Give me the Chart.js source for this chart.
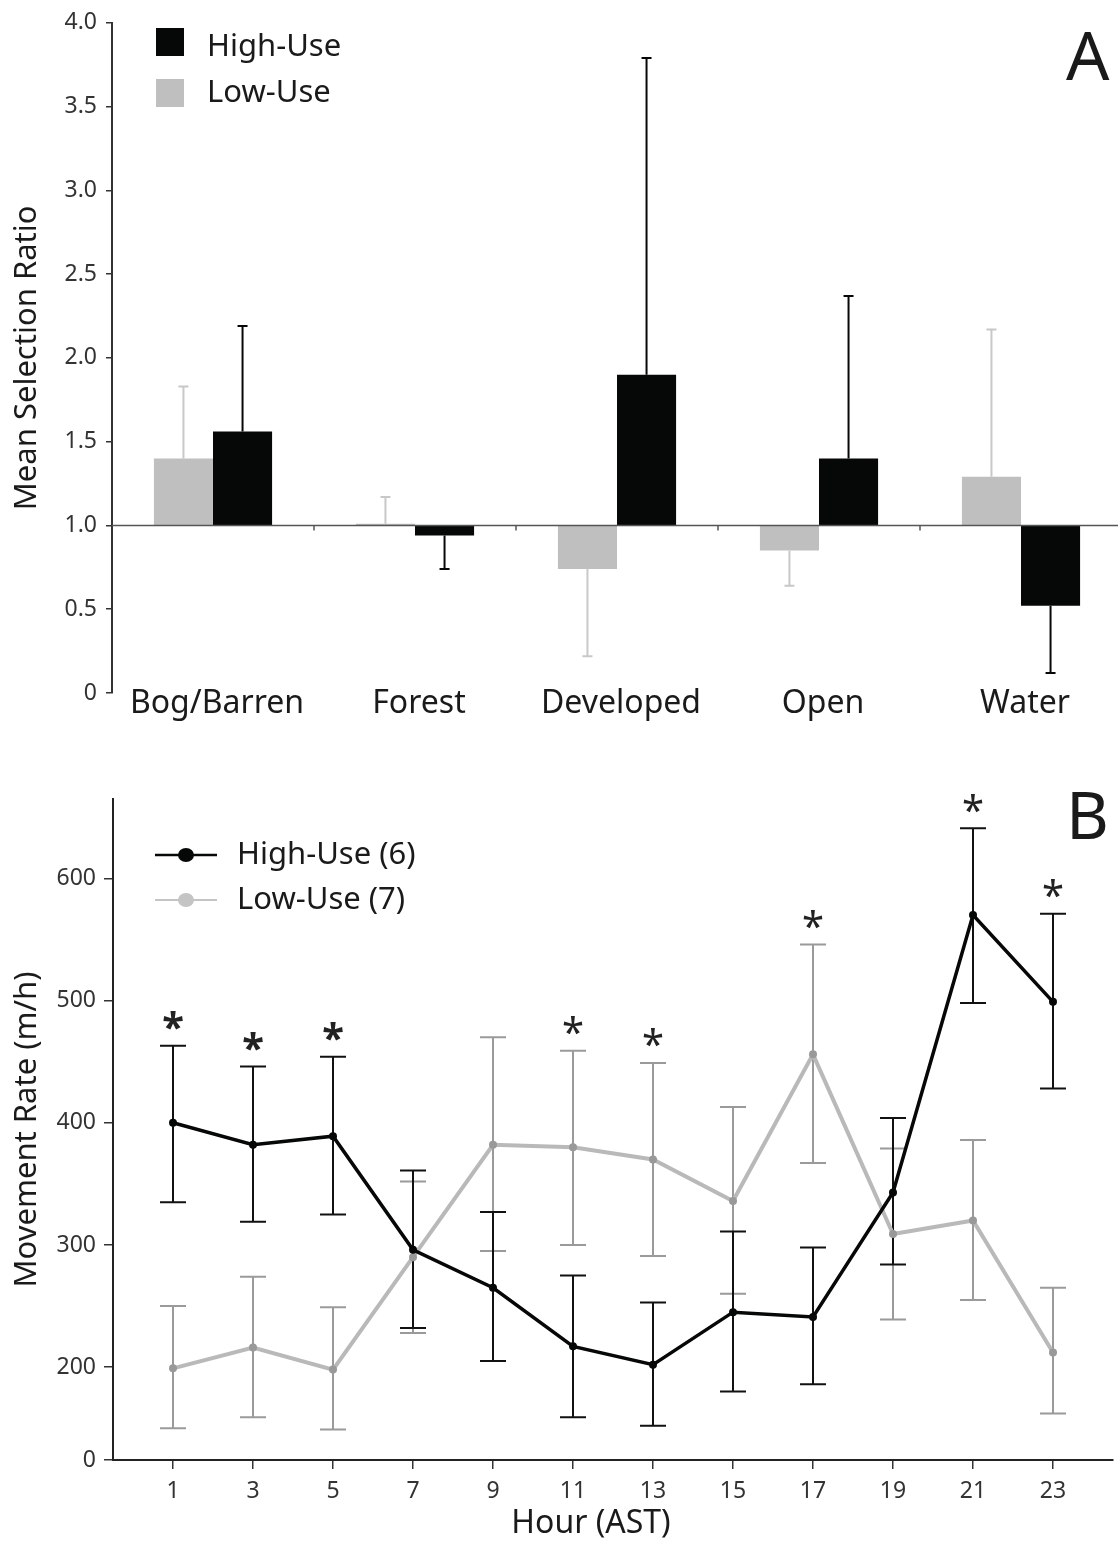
<!DOCTYPE html>
<html>
<head>
<meta charset="utf-8">
<title>Selection ratio and movement rate</title>
<script src="https://cdn.jsdelivr.net/npm/chart.js@4.4.1/dist/chart.umd.min.js"></script>
<style>
  html, body { margin: 0; padding: 0; background: #fff; }
  body { width: 1118px; height: 1543px; overflow: hidden; position: relative; }
  .panel { position: absolute; left: 0; width: 1118px; overflow: hidden; }
  #panelA { top: 0; height: 760px; }
  #panelB { top: 760px; height: 783px; }
  canvas { display: block; }
</style>
</head>
<body>
<div class="panel" id="panelA"><canvas id="chartA" width="1122" height="760"></canvas></div>
<div class="panel" id="panelB"><canvas id="chartB" width="1118" height="783"></canvas></div>
<script>
// ---- Panel A data ----
const habitats = ['Bog/Barren', 'Forest', 'Developed', 'Open', 'Water'];
const lowUseRatio = [1.40, 1.01, 0.74, 0.85, 1.29];
const lowUseErr = [1.83, 1.17, 0.22, 0.64, 2.17];
const highUseRatio = [1.56, 0.94, 1.90, 1.40, 0.52];
const highUseErr = [2.19, 0.74, 3.79, 2.37, 0.12];
const ratioBase = 1.0;

// ---- Panel B data ----
const hours = [1, 3, 5, 7, 9, 11, 13, 15, 17, 19, 21, 23];
const highUseRate = [400, 382, 389, 296, 265, 217, 202, 245, 241, 343, 570, 499];
const highUseUpper = [463, 446, 454, 361, 327, 275, 253, 311, 298, 404, 641, 571];
const highUseLower = [335, 319, 325, 232, 205, 159, 152, 180, 186, 284, 498, 428];
const lowUseRate = [199, 216, 198, 290, 382, 380, 370, 336, 456, 309, 320, 212];
const lowUseUpper = [250, 274, 249, 352, 470, 459, 449, 413, 546, 379, 386, 265];
const lowUseLower = [150, 159, 149, 228, 295, 300, 291, 260, 367, 239, 255, 162];
// the y axis is broken: its bottom tick reads 0
const rateAxisMin = 124;
const rateTicks = [124, 200, 300, 400, 500, 600];
const significantHours = [1, 3, 5, 11, 13, 17, 21, 23];
const heavyStarHours = [1, 3, 5];

const FONT = '"Noto Sans", "DejaVu Sans", sans-serif';
Chart.defaults.font.family = FONT;
Chart.defaults.color = '#222';

const BLACK = '#060808';
const LIGHT = '#c0bfbf';

// error bars, the 1.0 reference line, category names and legend for panel A
const ratioExtrasPlugin = {
  id: 'ratioExtras',
  afterDatasetsDraw(chart) {
    const { ctx, chartArea, scales: { x, y } } = chart;
    ctx.save();
    chart.data.datasets.forEach((ds, i) => {
      const meta = chart.getDatasetMeta(i);
      meta.data.forEach((bar, j) => {
        const yv = y.getPixelForValue(ds.data[j][1]);
        const ye = y.getPixelForValue(ds.errTo[j]);
        ctx.strokeStyle = ds.errColor;
        ctx.lineWidth = 2;
        ctx.beginPath();
        ctx.moveTo(bar.x, yv);
        ctx.lineTo(bar.x, ye);
        ctx.moveTo(bar.x - 5, ye);
        ctx.lineTo(bar.x + 5, ye);
        ctx.stroke();
      });
    });
    const yb = y.getPixelForValue(ratioBase);
    ctx.strokeStyle = '#555';
    ctx.lineWidth = 1.5;
    ctx.beginPath();
    ctx.moveTo(chartArea.left, yb);
    ctx.lineTo(chartArea.right, yb);
    for (let j = 0; j < habitats.length - 1; j++) {
      const xb = (x.getPixelForValue(j) + x.getPixelForValue(j + 1)) / 2;
      ctx.moveTo(xb, yb);
      ctx.lineTo(xb, yb + 5);
    }
    ctx.stroke();
    ctx.restore();
  },
  afterDraw(chart) {
    const { ctx, chartArea, scales: { x } } = chart;
    ctx.save();
    // category names sit a little into the plot, so draw them here
    ctx.fillStyle = '#1a1a1a';
    ctx.font = '32px ' + FONT;
    ctx.textAlign = 'center';
    ctx.textBaseline = 'alphabetic';
    habitats.forEach((name, j) => {
      ctx.fillText(name, x.getPixelForValue(j) + 4, chartArea.bottom + 20);
    });
    // legend
    ctx.textAlign = 'left';
    ctx.fillStyle = BLACK;
    ctx.fillRect(156, 28, 28, 28);
    ctx.fillStyle = LIGHT;
    ctx.fillRect(156, 79, 28, 28);
    ctx.fillStyle = '#1a1a1a';
    ctx.font = '31px ' + FONT;
    ctx.textBaseline = 'middle';
    ctx.fillText('High-Use', 207, 47);
    ctx.fillText('Low-Use', 207, 93);
    ctx.font = '68px ' + FONT;
    ctx.textBaseline = 'alphabetic';
    ctx.fillText('A', 1066, 80);
    ctx.restore();
  }
};

new Chart(document.getElementById('chartA'), {
  type: 'bar',
  data: {
    labels: habitats,
    datasets: [
      {
        label: 'Low-Use',
        data: lowUseRatio.map(v => [ratioBase, v]),
        errTo: lowUseErr,
        errColor: '#c8c8c8',
        backgroundColor: LIGHT,
        borderWidth: 0
      },
      {
        label: 'High-Use',
        data: highUseRatio.map(v => [ratioBase, v]),
        errTo: highUseErr,
        errColor: BLACK,
        backgroundColor: BLACK,
        borderWidth: 0
      }
    ]
  },
  options: {
    responsive: false,
    animation: false,
    devicePixelRatio: 1,
    categoryPercentage: 0.585,
    barPercentage: 1,
    layout: { padding: { top: 22, right: 0, left: 0, bottom: 0 } },
    plugins: { legend: { display: false }, tooltip: { enabled: false } },
    scales: {
      x: {
        grid: { display: false },
        border: { display: false },
        ticks: { display: false },
        afterFit(scale) { scale.height = 67; }
      },
      y: {
        min: 0,
        max: 4,
        ticks: {
          stepSize: 0.5,
          font: { size: 23 },
          color: '#333',
          padding: 9,
          callback: v => (v === 0 ? '0' : v.toFixed(1))
        },
        grid: { drawOnChartArea: false, tickLength: 6, color: '#333', lineWidth: 1.5 },
        border: { display: true, color: '#333', width: 2 },
        title: {
          display: true,
          text: 'Mean Selection Ratio',
          font: { size: 31 },
          color: '#1a1a1a',
          padding: { top: 9, bottom: 0 }
        },
        afterFit(scale) { scale.width = 112; }
      }
    }
  },
  plugins: [ratioExtrasPlugin]
});

// error bars, asterisks, legend for panel B
const rateExtrasPlugin = {
  id: 'rateExtras',
  beforeDatasetsDraw(chart) {
    const { ctx, scales: { x, y } } = chart;
    ctx.save();
    [1, 0].forEach(i => {
      const ds = chart.data.datasets[i];
      ctx.strokeStyle = ds.errColor;
      ctx.lineWidth = 2;
      ds.data.forEach((pt, j) => {
        const px = x.getPixelForValue(pt.x);
        const yt = y.getPixelForValue(ds.upper[j]);
        const yl = y.getPixelForValue(ds.lower[j]);
        ctx.beginPath();
        ctx.moveTo(px, yt);
        ctx.lineTo(px, yl);
        ctx.moveTo(px - 13, yt);
        ctx.lineTo(px + 13, yt);
        ctx.moveTo(px - 13, yl);
        ctx.lineTo(px + 13, yl);
        ctx.stroke();
      });
    });
    ctx.restore();
  },
  afterDatasetsDraw(chart) {
    const { ctx, scales: { x, y } } = chart;
    ctx.save();
    ctx.fillStyle = '#222';
    ctx.textAlign = 'center';
    ctx.textBaseline = 'alphabetic';
    significantHours.forEach(h => {
      const j = hours.indexOf(h);
      const top = Math.max(highUseUpper[j], lowUseUpper[j]);
      const cy = y.getPixelForValue(top) - 25;
      ctx.font = (heavyStarHours.includes(h) ? 'bold ' : '') + '40px ' + FONT;
      const m = ctx.measureText('*');
      const off = (m.actualBoundingBoxAscent - m.actualBoundingBoxDescent) / 2;
      ctx.fillText('*', x.getPixelForValue(h), cy + off);
    });
    ctx.restore();
  },
  afterDraw(chart) {
    const { ctx, chartArea } = chart;
    ctx.save();
    // legend
    const rows = [
      { text: 'High-Use (6)', line: BLACK, dot: BLACK, lw: 2.5, y: 95 },
      { text: 'Low-Use (7)', line: '#c4c4c4', dot: '#c4c4c4', lw: 2, y: 140 }
    ];
    rows.forEach(r => {
      ctx.strokeStyle = r.line;
      ctx.lineWidth = r.lw;
      ctx.beginPath();
      ctx.moveTo(155, r.y);
      ctx.lineTo(217, r.y);
      ctx.stroke();
      ctx.fillStyle = r.dot;
      ctx.beginPath();
      ctx.ellipse(186, r.y, 8, 7, 0, 0, Math.PI * 2);
      ctx.fill();
      ctx.fillStyle = '#1a1a1a';
      ctx.font = '31px ' + FONT;
      ctx.textBaseline = 'middle';
      ctx.fillText(r.text, 237, r.y);
    });
    // x axis title
    ctx.textAlign = 'center';
    ctx.font = '32px ' + FONT;
    ctx.fillText('Hour (AST)', (chartArea.left + chartArea.right) / 2 - 22, 764);
    // panel letter
    ctx.textAlign = 'left';
    ctx.textBaseline = 'alphabetic';
    ctx.font = '66px ' + FONT;
    ctx.fillText('B', 1066, 79);
    ctx.restore();
  }
};

new Chart(document.getElementById('chartB'), {
  type: 'line',
  data: {
    datasets: [
      {
        label: 'High-Use (6)',
        data: hours.map((h, j) => ({ x: h, y: highUseRate[j] })),
        upper: highUseUpper,
        lower: highUseLower,
        errColor: '#111',
        borderColor: BLACK,
        borderWidth: 3.5,
        pointRadius: 4,
        pointBackgroundColor: BLACK,
        pointBorderColor: BLACK,
        pointBorderWidth: 0,
        tension: 0
      },
      {
        label: 'Low-Use (7)',
        data: hours.map((h, j) => ({ x: h, y: lowUseRate[j] })),
        upper: lowUseUpper,
        lower: lowUseLower,
        errColor: '#9a9a9a',
        borderColor: '#b9b9b9',
        borderWidth: 4,
        pointRadius: 4,
        pointBackgroundColor: '#999',
        pointBorderColor: '#999',
        pointBorderWidth: 0,
        tension: 0
      }
    ]
  },
  options: {
    responsive: false,
    animation: false,
    devicePixelRatio: 1,
    layout: { padding: { top: 39, right: 5, left: 0, bottom: 0 } },
    plugins: { legend: { display: false }, tooltip: { enabled: false } },
    scales: {
      x: {
        type: 'linear',
        min: -0.5,
        max: 24.5,
        afterBuildTicks(scale) { scale.ticks = hours.map(h => ({ value: h })); },
        ticks: { font: { size: 23 }, color: '#333', padding: 9 },
        grid: { drawOnChartArea: false, tickLength: 9, color: '#333', lineWidth: 1.5 },
        border: { display: true, color: '#222', width: 2 },
        afterFit(scale) { scale.height = 83; }
      },
      y: {
        min: rateAxisMin,
        max: 665,
        afterBuildTicks(scale) { scale.ticks = rateTicks.map(v => ({ value: v })); },
        ticks: {
          font: { size: 23 },
          color: '#333',
          padding: 8,
          callback: v => (v === rateAxisMin ? '0' : String(v))
        },
        grid: { drawOnChartArea: false, tickLength: 9, color: '#333', lineWidth: 1.5 },
        border: { display: true, color: '#222', width: 2 },
        title: {
          display: true,
          text: 'Movement Rate (m/h)',
          font: { size: 31 },
          color: '#1a1a1a',
          padding: { top: 9, bottom: 0 }
        },
        afterFit(scale) { scale.width = 113; }
      }
    }
  },
  plugins: [rateExtrasPlugin]
});
</script>
</body>
</html>
